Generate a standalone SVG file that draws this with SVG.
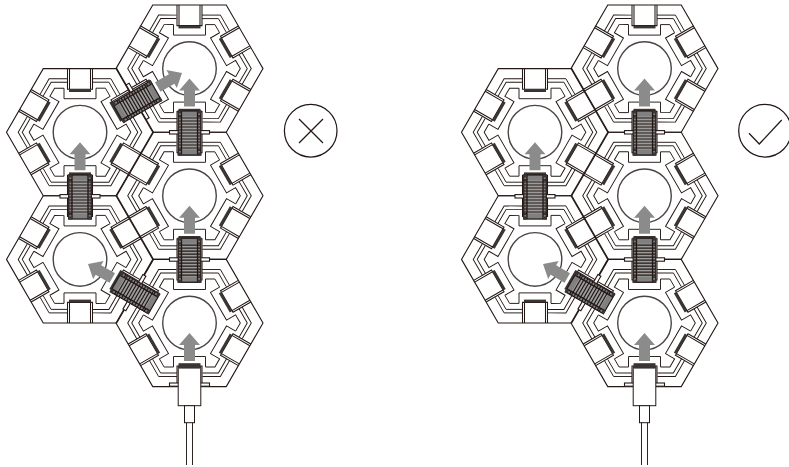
<svg xmlns="http://www.w3.org/2000/svg" width="789" height="467" viewBox="0 0 789 467">
<style>
.l{fill:none;stroke:#231815;stroke-width:.95}
.d{fill:none;stroke:#231815;stroke-width:1.05}
.o{fill:none;stroke:#231815;stroke-width:1.1}
.e{fill:none;stroke:#231815;stroke-width:1.25}
.c{fill:none;stroke:#4a4544;stroke-width:1.4}
.b{fill:#3a3534}
.a{fill:#8b8b8b}
.g{fill:#808080;stroke:#231815;stroke-width:1.2}
.s{fill:#9c9c9c}
.h{fill:none;stroke:#231815;stroke-width:1.2}
.v{fill:none;stroke:#231815;stroke-width:1.3}
.m{fill:#fff;stroke:#231815;stroke-width:1.1}
.w{fill:#fff;stroke:#231815;stroke-width:1}
</style>
<defs>
<g id="sec">
<path class="l" d="M-16-44V-33.5H16V-44H25.4L30.1-35.9"/>
<path class="d" d="M-12.5-63.6V-43H12.5V-63.6M-10.5-63.6V-43M10.5-43V-63.6"/>
<rect class="b" x="-11" y="-43" width="22" height="2.8"/>
<path class="l" d="M12.5-53.5H30.9L39.8-38M12.5-50H28.9L36.8-36.3"/>
</g>
<g id="hex">
<path class="o" d="M-36.75-63.6H36.75L73.5 0L36.75 63.6H-36.75L-73.5 0Z"/>
<circle class="c" r="26.8"/>
<use href="#sec"/>
<use href="#sec" transform="rotate(60)"/>
<use href="#sec" transform="rotate(120)"/>
<use href="#sec" transform="rotate(180)"/>
<use href="#sec" transform="rotate(240)"/>
<use href="#sec" transform="rotate(300)"/>
</g>
<polygon id="arrow" class="a" points="0,0 10.5,12 5.5,12 5.5,28 -5.5,28 -5.5,12 -10.5,12"/>
<g id="bridge">
<rect class="m" x="-20" y="-2.4" width="40" height="3.4"/>
<rect class="g" x="-11.3" y="-22" width="22.6" height="44"/>
<rect class="s" x="-8" y="-16.5" width="16" height="33"/>
<path class="v" d="M-8-22V22M8-22V22M-11.3-17H-8M8-17H11.3M-11.3 17H-8M8 17H11.3"/>
<path class="b" d="M-11.8-22.5H-8V-19.5H-11.8ZM8-22.5H11.8V-19.5H8ZM-11.8 19.5H-8V22.5H-11.8ZM8 19.5H11.8V22.5H8Z"/>
<path class="h" d="M-11-15H11M-11-12H11M-11-9H11M-11-6H11M-11-3H11M-11 0H11M-11 3H11M-11 6H11M-11 9H11M-11 12H11M-11 15H11"/>
</g>
<g id="usb">
<rect class="m" x="-20" y="60" width="40" height="3.2"/>
<rect class="w" x="-11.3" y="44" width="22.6" height="38.7"/>
<rect class="b" x="-10.5" y="43" width="21" height="2.6"/>
<rect class="w" x="-5" y="82.7" width="10" height="17"/>
<path class="l" d="M-3 99.7V142M3 99.7V142"/>
</g>
</defs>

<g id="figure-wrong">
<g id="hex-w1" transform="translate(189.5 68.6)"><use href="#hex"/></g>
<g id="hex-w2" transform="translate(189.5 195.8)"><use href="#hex"/></g>
<g id="hex-w3" transform="translate(189.5 323)"><use href="#hex"/></g>
<g id="hex-w4" transform="translate(80 132.2)"><use href="#hex"/></g>
<g id="hex-w5" transform="translate(80 259.4)"><use href="#hex"/></g>
<g id="connectors-w">
<use href="#bridge" transform="translate(189.5 133)"/>
<use href="#bridge" transform="translate(189.5 260.2)"/>
<use href="#bridge" transform="translate(80 197)"/>
<use href="#bridge" transform="translate(137 101.7) rotate(60)"/>
<use href="#bridge" transform="translate(135 293) rotate(-60)"/>
<use href="#usb" transform="translate(189.5 323)"/>
<use href="#arrow" transform="translate(189.5 78.6)"/>
<use href="#arrow" transform="translate(182 73) rotate(60)"/>
<use href="#arrow" transform="translate(189.5 205.8)"/>
<use href="#arrow" transform="translate(189.5 333)"/>
<use href="#arrow" transform="translate(80 142.2)"/>
<use href="#arrow" transform="translate(88 264) rotate(-60)"/>
</g>
</g>

<g id="figure-right" transform="translate(455 0)">
<g id="hex-r1" transform="translate(189.5 68.6)"><use href="#hex"/></g>
<g id="hex-r2" transform="translate(189.5 195.8)"><use href="#hex"/></g>
<g id="hex-r3" transform="translate(189.5 323)"><use href="#hex"/></g>
<g id="hex-r4" transform="translate(80 132.2)"><use href="#hex"/></g>
<g id="hex-r5" transform="translate(80 259.4)"><use href="#hex"/></g>
<g id="connectors-r">
<use href="#bridge" transform="translate(189.5 133)"/>
<use href="#bridge" transform="translate(189.5 260.2)"/>
<use href="#bridge" transform="translate(80 197)"/>
<use href="#bridge" transform="translate(135 293) rotate(-60)"/>
<use href="#usb" transform="translate(189.5 323)"/>
<use href="#arrow" transform="translate(189.5 78.6)"/>
<use href="#arrow" transform="translate(189.5 205.8)"/>
<use href="#arrow" transform="translate(189.5 333)"/>
<use href="#arrow" transform="translate(80 142.2)"/>
<use href="#arrow" transform="translate(88 264) rotate(-60)"/>
</g>
</g>

<g id="mark-cross">
<circle class="e" cx="310.7" cy="130.7" r="26.3"/>
<path class="e" d="M299 119L323 143M323 119L299 143"/>
</g>
<g id="mark-check">
<circle class="e" cx="765" cy="130.7" r="26.3"/>
<path class="e" d="M749 133.3L759.3 144L781.7 120"/>
</g>
</svg>
